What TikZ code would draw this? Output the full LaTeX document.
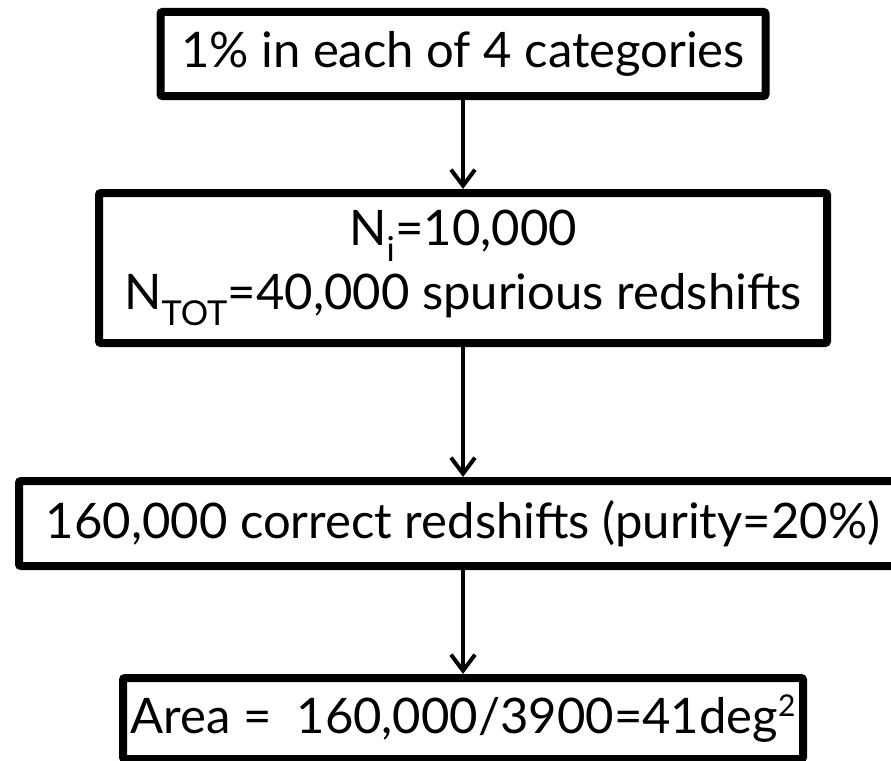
\documentclass[tikz,border=0pt]{standalone}
\usepackage{fontspec}
\setmainfont{Lato}
\usetikzlibrary{arrows.meta}
\newcommand{\supr}[1]{{\fontsize{30}{30}\selectfont\raisebox{17pt}{#1}}}
\tikzset{
  stagebox/.style={draw, line width=8pt, rounded corners=2pt, inner sep=0pt,
    align=center, font=\fontsize{49}{64}\selectfont},
  flowarrow/.style={line width=4pt,
    -{Straight Barb[length=16pt,width=24pt,line width=4pt]}},
}
\begin{document}
\begin{tikzpicture}[x=1pt,y=-1pt]
  \useasboundingbox (0,0) rectangle (891,760);
  % boxes
  \node[stagebox, minimum width=605pt, minimum height=84pt] (cats) at (463,54)
    {1\% in each of 4 categories};
  \node[stagebox, minimum width=728pt, minimum height=150pt] (spur) at (463,268)
    {N\textsubscript{i}=10,000\\N\textsubscript{TOT}=40,000 spurious redshifts};
  \node[stagebox, minimum width=888pt, minimum height=85pt] (corr) at (463,523.5)
    {160,000 correct redshifts (purity=20\%)};
  \node[stagebox, minimum width=680pt, minimum height=81pt] (area) at (463,718.5)
    {Area = \ 160,000/3900=41deg\supr{2}};
  % arrows
  \draw[flowarrow] (cats) -- (spur);
  \draw[flowarrow] (spur) -- (corr);
  \draw[flowarrow] (corr) -- (area);
\end{tikzpicture}
\end{document}
